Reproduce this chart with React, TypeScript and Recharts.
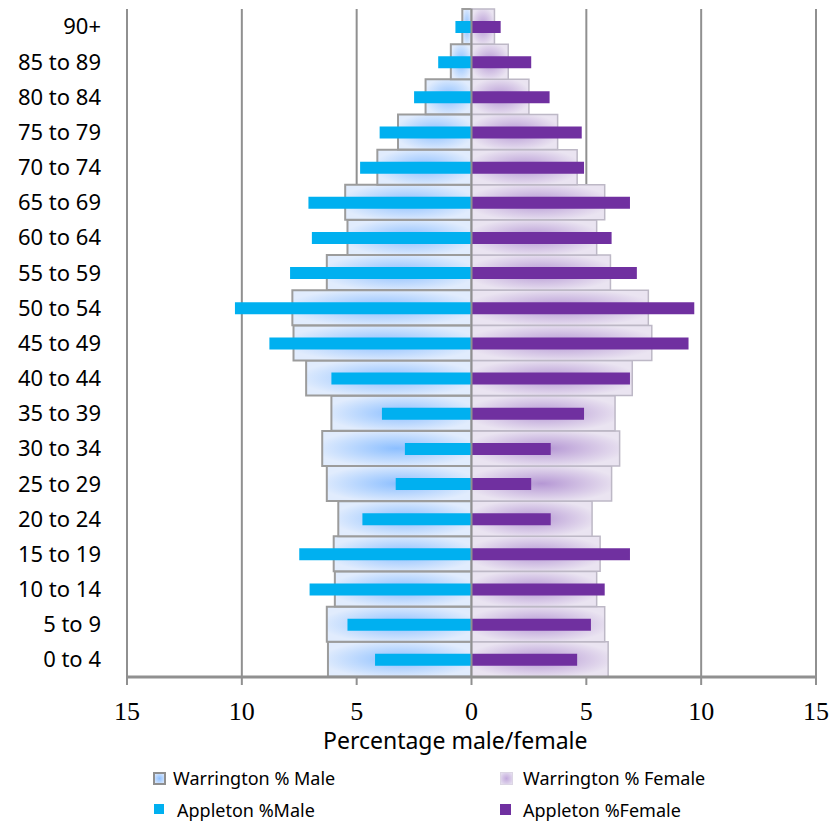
import React from 'react';
import { BarChart, Bar, XAxis, YAxis, CartesianGrid, ReferenceLine } from 'recharts';

const ageGroups = [
  '0 to 4', '5 to 9', '10 to 14', '15 to 19', '20 to 24', '25 to 29', '30 to 34',
  '35 to 39', '40 to 44', '45 to 49', '50 to 54', '55 to 59', '60 to 64', '65 to 69',
  '70 to 74', '75 to 79', '80 to 84', '85 to 89', '90+',
];
const warringtonMale = [6.25, 6.3, 5.95, 6.0, 5.8, 6.3, 6.5, 6.1, 7.2, 7.75, 7.8, 6.3, 5.4, 5.5, 4.1, 3.2, 2.0, 0.9, 0.4];
const warringtonFemale = [5.95, 5.8, 5.45, 5.6, 5.25, 6.1, 6.45, 6.25, 7.0, 7.85, 7.7, 6.05, 5.45, 5.8, 4.6, 3.75, 2.5, 1.6, 1.0];
const appletonMale = [4.2, 5.4, 7.05, 7.5, 4.75, 3.3, 2.9, 3.9, 6.1, 8.8, 10.3, 7.9, 6.95, 7.1, 4.85, 4.0, 2.5, 1.45, 0.7];
const appletonFemale = [4.6, 5.2, 5.8, 6.9, 3.45, 2.6, 3.45, 4.9, 6.9, 9.45, 9.7, 7.2, 6.1, 6.9, 4.9, 4.8, 3.4, 2.6, 1.27];
const xTicks = [-15, -10, -5, 0, 5, 10, 15];

const data = ageGroups.map((age, i) => ({
  age,
  wMale: -warringtonMale[i],
  wFemale: warringtonFemale[i],
  aMale: -appletonMale[i],
  aFemale: appletonFemale[i],
}));

const sans = '"Noto Sans", "Open Sans", sans-serif';
const grey = '#909090';

const XTick = (props: any) => {
  const { x, y, payload } = props;
  return (
    <text x={x} y={y} dy={33} textAnchor="middle" fontFamily='"Liberation Serif", serif' fontSize={26} fill="#000">
      {Math.abs(payload.value)}
    </text>
  );
};

// plain text so the labels don't get wrapped/shifted
const YTick = (props: any) => {
  const { y, payload } = props;
  return (
    <text x={101} y={y} dy="0.36em" textAnchor="end" fontFamily={sans} fontSize={22} fill="#000">
      {payload.value}
    </text>
  );
};

const legendItems = [
  { label: 'Warrington % Male', iconLeft: 153, textLeft: 173, top: 778, kind: 'wm' },
  { label: 'Warrington % Female', iconLeft: 500, textLeft: 523, top: 778, kind: 'wf' },
  { label: 'Appleton %Male', iconLeft: 154, textLeft: 177, top: 810, kind: 'am' },
  { label: 'Appleton %Female', iconLeft: 500, textLeft: 523, top: 810, kind: 'af' },
];

const iconStyle = (kind: string): React.CSSProperties => {
  if (kind === 'wm')
    return { width: 9, height: 9, border: '2px solid #8f8f8f', background: 'radial-gradient(#8ec0ff, #dce9fd)' };
  if (kind === 'wf')
    return { width: 11, height: 11, border: '1px solid #dcd6e4', background: 'radial-gradient(#c2a9dc, #e9e3f1)' };
  if (kind === 'am') return { width: 10, height: 10, background: '#00b0f0' };
  return { width: 11, height: 11, background: '#7030a0' };
};

export default function App() {
  return (
    <div style={{ position: 'absolute', left: 0, top: 0, width: 832, height: 823, background: '#fff' }}>
      <BarChart
        width={832}
        height={823}
        data={data}
        layout="vertical"
        stackOffset="sign"
        barCategoryGap={0}
        barGap={0}
        margin={{ top: 9, right: 16, left: 0, bottom: 86 }}
      >
        <defs>
          <radialGradient id="gradMale" cx="50%" cy="50%" r="55%">
            <stop offset="0%" stopColor="#8cbfff" />
            <stop offset="100%" stopColor="#e1ecfd" />
          </radialGradient>
          <radialGradient id="gradFemale" cx="50%" cy="50%" r="55%">
            <stop offset="0%" stopColor="#b597d4" />
            <stop offset="100%" stopColor="#eae4f1" />
          </radialGradient>
        </defs>
        <CartesianGrid horizontal={false} vertical stroke={grey} strokeWidth={2} yAxisId="w" />
        <XAxis
          type="number"
          domain={[-15, 15]}
          ticks={xTicks}
          allowDataOverflow
          height={60}
          axisLine={{ stroke: grey, strokeWidth: 3 }}
          tickLine={{ stroke: grey, strokeWidth: 2 }}
          tickSize={8}
          tickMargin={2}
          tick={<XTick />}
        />
        <YAxis
          yAxisId="w"
          type="category"
          dataKey="age"
          reversed
          width={127}
          axisLine={false}
          tickLine={false}
          interval={0}
          tick={<YTick />}
        />
        <YAxis yAxisId="a" type="category" dataKey="age" reversed hide />
        <Bar dataKey="wMale" yAxisId="w" stackId="w" fill="url(#gradMale)" stroke="#9c9c9c" strokeWidth={2} isAnimationActive={false} />
        <Bar dataKey="wFemale" yAxisId="w" stackId="w" fill="url(#gradFemale)" stroke="#bdb8c6" strokeWidth={1.5} isAnimationActive={false} />
        <Bar dataKey="aMale" yAxisId="a" stackId="a" fill="#00b0f0" barSize={12} isAnimationActive={false} />
        <Bar dataKey="aFemale" yAxisId="a" stackId="a" fill="#7030a0" barSize={12} isAnimationActive={false} />
        <ReferenceLine x={0} yAxisId="w" stroke={grey} strokeWidth={2} />
      </BarChart>
      <div
        style={{
          position: 'absolute', left: 323, top: 740, transform: 'translateY(-50%)',
          fontFamily: sans, fontSize: 23, color: '#000', whiteSpace: 'nowrap', lineHeight: 1,
        }}
      >
        Percentage male/female
      </div>
      {legendItems.map((item) => (
        <React.Fragment key={item.label}>
          <div style={{ position: 'absolute', left: item.iconLeft, top: item.top - 6, ...iconStyle(item.kind) }} />
          <div
            style={{
              position: 'absolute', left: item.textLeft, top: item.top, transform: 'translateY(-50%)',
              fontFamily: sans, fontSize: 18, color: '#000', whiteSpace: 'nowrap', lineHeight: 1,
            }}
          >
            {item.label}
          </div>
        </React.Fragment>
      ))}
    </div>
  );
}
